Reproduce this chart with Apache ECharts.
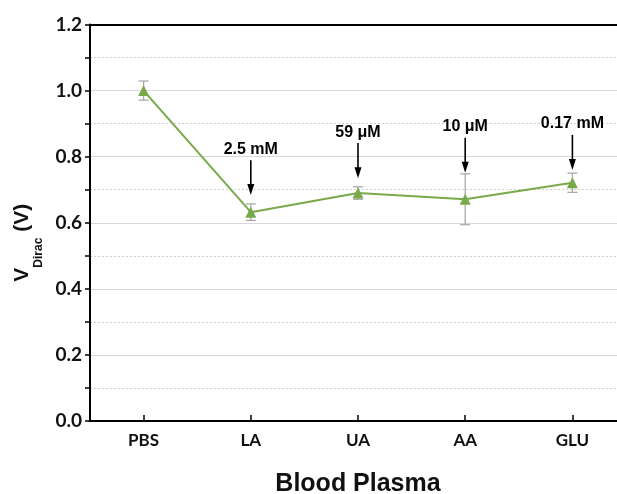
<!DOCTYPE html>
<html>
<head>
<meta charset="utf-8">
<script src="https://cdn.jsdelivr.net/npm/echarts@6/dist/echarts.min.js"></script>
<style>html,body{margin:0;padding:0;background:#fff;}#c{width:617px;height:494px;}</style>
</head>
<body>
<div id="c"></div>
<script>
const categories = ['PBS', 'LA', 'UA', 'AA', 'GLU'];
const values = [1.00, 0.632, 0.690, 0.671, 0.721];
const errors = [0.029, 0.025, 0.019, 0.077, 0.029];
const annotations = ['', '2.5 mM', '59 \u03bcM', '10 \u03bcM', '0.17 mM'];
const arrowTop = [null, 0.789, 0.841, 0.857, 0.866];
const arrowBottom = [null, 0.684, 0.735, 0.751, 0.760];
const yTicks = [0, 0.2, 0.4, 0.6, 0.8, 1.0, 1.2];

const chart = echarts.init(document.getElementById('c'), null, {renderer: 'canvas'});
const errData = categories.map((c, i) => [i, values[i] - errors[i], values[i] + errors[i]]);
const annData = categories.map((c, i) => [i, arrowTop[i], arrowBottom[i], annotations[i]]).filter(d => d[1] !== null);

const tickFont = 'Lato, "Open Sans", sans-serif';
const arial = '"Liberation Sans", Arial, sans-serif';
const option = {
  animation: false,
  backgroundColor: '#fff',
  grid: {left: 90, top: 24.5, width: 536, height: 396.5, containLabel: false, outerBoundsMode: 'none'},
  xAxis: [{
    type: 'category',
    data: categories,
    boundaryGap: true,
    axisLine: {show: true, lineStyle: {color: '#000', width: 2}},
    axisTick: {show: true, inside: true, alignWithLabel: true, length: 6, lineStyle: {color: '#000', width: 1.5}},
    axisLabel: {color: '#111', fontFamily: tickFont, fontWeight: 'bold', fontSize: 17, margin: 11},
    splitLine: {show: false},
    name: 'Blood Plasma',
    nameLocation: 'middle',
    nameGap: 51,
    nameTextStyle: {color: '#111', fontFamily: arial, fontWeight: 'bold', fontSize: 25}
  }, {
    type: 'category',
    data: categories,
    position: 'top',
    axisLine: {show: true, lineStyle: {color: '#000', width: 2}},
    axisTick: {show: false},
    axisLabel: {show: false}
  }],
  yAxis: {
    type: 'value',
    min: 0, max: 1.2, interval: 0.2,
    axisLine: {show: true, lineStyle: {color: '#000', width: 2}},
    axisTick: {show: true, inside: false, length: 5, lineStyle: {color: '#000', width: 1.5}},
    minorTick: {show: true, splitNumber: 2, length: 5, lineStyle: {color: '#000', width: 1.5}},
    axisLabel: {color: '#111', fontFamily: tickFont, fontWeight: 'bold', fontSize: 19, margin: 8,
      formatter: v => v.toFixed(1)},
    splitLine: {show: true, lineStyle: {color: '#d8d8d8', width: 1}},
    minorSplitLine: {show: true, lineStyle: {color: '#d0d0d0', width: 1, type: [2, 2]}},
    name: '{v|V}{s|Dirac}{v| (V)}',
    nameLocation: 'middle',
    nameRotate: 90,
    nameGap: 44,
    nameTextStyle: {
      color: '#111',
      padding: [0, 40, 0, 0],
      rich: {
        v: {fontFamily: arial, fontWeight: 'bold', fontSize: 21, lineHeight: 33, verticalAlign: 'top', color: '#111'},
        s: {fontFamily: arial, fontWeight: 'bold', fontSize: 12, lineHeight: 12, verticalAlign: 'bottom', color: '#111'}
      }
    }
  },
  series: [{
    type: 'custom',
    name: 'err',
    z: 1,
    data: errData,
    renderItem: function (params, api) {
      const x = api.value(0);
      const lo = api.coord([x, api.value(1)]);
      const hi = api.coord([x, api.value(2)]);
      const w = 5;
      const st = {stroke: '#aaaaaa', lineWidth: 1.3};
      return {type: 'group', children: [
        {type: 'line', shape: {x1: lo[0], y1: lo[1], x2: hi[0], y2: hi[1]}, style: st},
        {type: 'line', shape: {x1: lo[0] - w, y1: lo[1], x2: lo[0] + w, y2: lo[1]}, style: st},
        {type: 'line', shape: {x1: hi[0] - w, y1: hi[1], x2: hi[0] + w, y2: hi[1]}, style: st}
      ]};
    }
  }, {
    type: 'line',
    name: 'VDirac',
    z: 3,
    data: values,
    symbol: 'triangle',
    symbolSize: 11,
    itemStyle: {color: '#78a94a'},
    lineStyle: {color: '#78a94a', width: 2}
  }, {
    type: 'custom',
    name: 'ann',
    z: 4,
    data: annData,
    renderItem: function (params, api) {
      const x = api.value(0);
      const t = api.coord([x, api.value(1)]);
      const b = api.coord([x, api.value(2)]);
      const hh = 11, hw = 3.5;
      const label = annData[params.dataIndex][3];
      return {type: 'group', children: [
        {type: 'line', shape: {x1: t[0], y1: t[1], x2: b[0], y2: b[1] - hh + 1}, style: {stroke: '#000', lineWidth: 1.6}},
        {type: 'polygon', shape: {points: [[b[0] - hw, b[1] - hh], [b[0] + hw, b[1] - hh], [b[0], b[1]]]}, style: {fill: '#000'}},
        {type: 'text', x: t[0], y: t[1] - 3, style: {text: label, fill: '#000', align: 'center', verticalAlign: 'bottom',
          font: 'bold 16px "Liberation Sans", Arial, sans-serif'}}
      ]};
    }
  }]
};
chart.setOption(option);
</script>
</body>
</html>
